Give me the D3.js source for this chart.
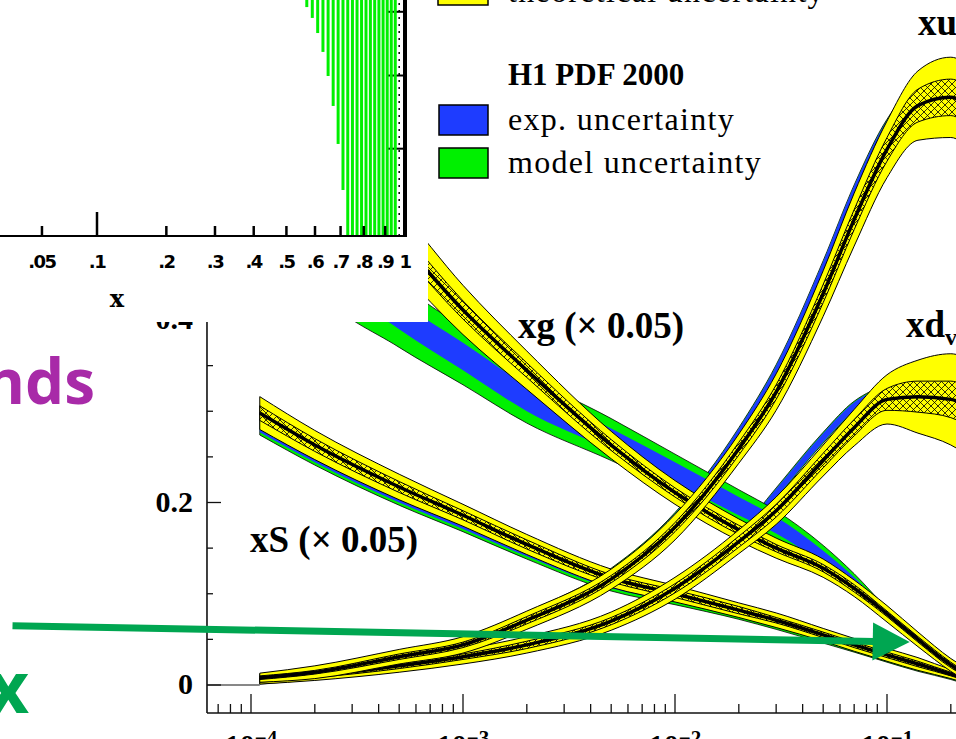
<!DOCTYPE html>
<html>
<head>
<meta charset="utf-8">
<script src="https://cdn.jsdelivr.net/npm/d3@7"></script>
<style>
  body { margin: 0; background: #fff; overflow: hidden; }
  svg { display: block; }
</style>
</head>
<body>
<svg id="chart" width="956" height="739"></svg>
<script>
const xGrid = [1.1e-4, 2e-4, 5e-4, 1e-3, 2e-3, 5e-3, 1e-2, 2e-2, 3e-2, 5e-2, 7e-2, 0.1, 0.14, 0.2, 0.25];

// xu_v : yellow fit (central, half width, hatched half width) and H1 band
const uvFit   = [0.008, 0.014, 0.031, 0.044, 0.071, 0.116, 0.173, 0.259, 0.321, 0.429, 0.510, 0.587, 0.635, 0.644, 0.630];
const uvTh    = [0.005, 0.007, 0.008, 0.009, 0.010, 0.011, 0.014, 0.016, 0.020, 0.025, 0.029, 0.031, 0.038, 0.044, 0.046];
const uvHatch = [0.002, 0.002, 0.003, 0.003, 0.004, 0.004, 0.005, 0.007, 0.008, 0.010, 0.011, 0.013, 0.018, 0.020, 0.021];
const uvH1    = [0.008, 0.014, 0.032, 0.046, 0.074, 0.121, 0.182, 0.274, 0.342, 0.455, 0.536, 0.606, 0.643, 0.646, 0.630];
const uvExp   = [0.003, 0.004, 0.004, 0.005, 0.005, 0.006, 0.006, 0.007, 0.008, 0.009, 0.011, 0.013, 0.014, 0.016, 0.016];
const uvModel = [0.004, 0.005, 0.005, 0.006, 0.006, 0.007, 0.007, 0.008, 0.009, 0.010, 0.012, 0.014, 0.015, 0.017, 0.017];

// xd_v
const dvFit   = [0.005, 0.010, 0.021, 0.031, 0.044, 0.070, 0.106, 0.157, 0.191, 0.246, 0.282, 0.313, 0.316, 0.313, 0.302];
const dvTh    = [0.004, 0.005, 0.007, 0.008, 0.009, 0.010, 0.012, 0.013, 0.015, 0.017, 0.020, 0.027, 0.040, 0.050, 0.053];
const dvHatch = [0.002, 0.002, 0.003, 0.003, 0.004, 0.004, 0.005, 0.006, 0.007, 0.008, 0.009, 0.012, 0.017, 0.020, 0.020];
const dvH1    = [0.005, 0.010, 0.021, 0.031, 0.044, 0.070, 0.107, 0.161, 0.210, 0.271, 0.305, 0.320, 0.318, 0.313, 0.302];
const dvExp   = [0.003, 0.003, 0.004, 0.004, 0.005, 0.005, 0.005, 0.005, 0.005, 0.005, 0.005, 0.005, 0.006, 0.006, 0.006];
const dvModel = [0.004, 0.004, 0.005, 0.005, 0.006, 0.006, 0.006, 0.006, 0.006, 0.006, 0.006, 0.006, 0.007, 0.007, 0.007];

// xg (x 0.05)
const gFit    = [0.641, 0.576, 0.488, 0.411, 0.345, 0.263, 0.211, 0.170, 0.150, 0.128, 0.106, 0.078, 0.050, 0.022, 0.008];
const gTh     = [0.033, 0.033, 0.033, 0.027, 0.021, 0.015, 0.013, 0.012, 0.011, 0.010, 0.009, 0.009, 0.008, 0.007, 0.007];
const gHatch  = [0.012, 0.012, 0.012, 0.010, 0.008, 0.006, 0.005, 0.005, 0.004, 0.004, 0.004, 0.003, 0.003, 0.003, 0.002];
const gH1     = [0.560, 0.475, 0.405, 0.360, 0.314, 0.269, 0.233, 0.196, 0.175, 0.140, 0.113, 0.080, 0.050, 0.022, 0.008];
const gExp    = [0.015, 0.015, 0.015, 0.015, 0.014, 0.012, 0.011, 0.010, 0.009, 0.007, 0.005, 0.002, 0.002, 0.001, 0.001];
const gModel  = [0.040, 0.040, 0.035, 0.031, 0.027, 0.023, 0.020, 0.018, 0.016, 0.013, 0.009, 0.004, 0.003, 0.002, 0.002];

// xS (x 0.05)
const sFit    = [0.298, 0.263, 0.217, 0.186, 0.154, 0.117, 0.100, 0.082, 0.071, 0.055, 0.044, 0.033, 0.023, 0.012, 0.005];
const sTh     = [0.018, 0.016, 0.014, 0.012, 0.011, 0.010, 0.009, 0.008, 0.008, 0.007, 0.007, 0.007, 0.007, 0.005, 0.005];
const sHatch  = [0.008, 0.007, 0.006, 0.005, 0.005, 0.004, 0.004, 0.004, 0.003, 0.003, 0.003, 0.003, 0.003, 0.002, 0.002];
const sH1     = [0.289, 0.255, 0.209, 0.179, 0.148, 0.112, 0.096, 0.079, 0.068, 0.052, 0.042, 0.031, 0.021, 0.011, 0.004];
const sExp    = [0.012, 0.011, 0.009, 0.008, 0.007, 0.006, 0.005, 0.004, 0.004, 0.003, 0.003, 0.003, 0.003, 0.002, 0.002];
const sModel  = [0.015, 0.014, 0.012, 0.011, 0.010, 0.009, 0.008, 0.007, 0.007, 0.006, 0.006, 0.006, 0.006, 0.005, 0.005];

// axis ticks
const xDecades = [1e-4, 1e-3, 1e-2, 1e-1, 1];
const xDecadeExp = ["-4", "-3", "-2", "-1", "0"];
const yTicks = [0, 0.05, 0.1, 0.15, 0.2, 0.25, 0.3, 0.35, 0.4];
const yLabels = ["0", "0.2", "0.4"];

// inset (upper left, cube root x axis)
const insetTicks = [0.02, 0.05, 0.1, 0.2, 0.3, 0.4, 0.5, 0.6, 0.7, 0.8, 0.9, 1];
const insetTickLabels = [".02", ".05", ".1", ".2", ".3", ".4", ".5", ".6", ".7", ".8", ".9", "1"];
const insetBarX = [0.57, 0.59, 0.61, 0.63, 0.65, 0.67, 0.69, 0.71, 0.73, 0.75, 0.77, 0.79, 0.81, 0.83, 0.85, 0.87, 0.89, 0.91, 0.93, 0.95];
const insetBarLow = [0.97, 0.924, 0.86, 0.78, 0.678, 0.551, 0.39, 0.195, 0, 0, 0, 0, 0, 0, 0, 0, 0, 0, 0, 0];
const insetRightTicks = [0.37, 0.68, 0.95];

const YELLOW = "#ffff00", BLUE = "#1e3cff", GREEN = "#00f000";
const SERIF = '"Liberation Serif", "DejaVu Serif", serif';

const svg = d3.select("#chart");

const xMin = 6.2e-5, yMin = -0.0307;
const x = d3.scaleLog().domain([1e-4, 1]).range([251, 1099]);
const y = d3.scaleLinear().domain([0, 0.4]).range([685, 320]);

// mesh for the hatched part of the yellow bands
const defs = svg.append("defs");
const mesh = defs.append("pattern").attr("id", "mesh")
  .attr("patternUnits", "userSpaceOnUse").attr("width", 7).attr("height", 7);
mesh.append("rect").attr("width", 7).attr("height", 7).attr("fill", YELLOW);
mesh.append("path").attr("d", "M0,0L7,7M7,0L0,7")
  .attr("stroke", "#000").attr("stroke-width", 0.8);

// ---- axes ----
const axisG = svg.append("g").attr("stroke", "#111").attr("fill", "none");
axisG.append("line").attr("x1", x(xMin)).attr("x2", x(xMin))
  .attr("y1", y(0.45)).attr("y2", y(yMin)).attr("stroke-width", 1.6);
axisG.append("line").attr("x1", x(xMin)).attr("x2", 960)
  .attr("y1", y(yMin)).attr("y2", y(yMin)).attr("stroke-width", 1.6);

// y ticks, pointing inwards
axisG.selectAll(".yt").data(yTicks).join("line")
  .attr("x1", x(xMin))
  .attr("x2", (d) => x(xMin) + (Math.round(d * 100) % 20 === 0 ? 14 : 6))
  .attr("y1", (d) => y(d)).attr("y2", (d) => y(d))
  .attr("stroke-width", 1.3);

// x ticks: decades and minor ticks
const minor = [];
for (let k = -5; k < 0; k++) {
  for (let m = 2; m <= 9; m++) {
    const v = m * Math.pow(10, k);
    if (v > xMin) minor.push(v);
  }
}
axisG.selectAll(".xm").data(minor).join("line")
  .attr("x1", (d) => x(d)).attr("x2", (d) => x(d))
  .attr("y1", y(yMin)).attr("y2", y(yMin) - 9).attr("stroke-width", 1.3);
axisG.selectAll(".xM").data(xDecades).join("line")
  .attr("x1", (d) => x(d)).attr("x2", (d) => x(d))
  .attr("y1", y(yMin)).attr("y2", y(yMin) - 19).attr("stroke-width", 1.3);

// tick labels
svg.append("g").selectAll("text").data(yLabels).join("text")
  .attr("x", 193).attr("y", (d) => y(+d) + 9)
  .attr("text-anchor", "end")
  .style("font", `bold 30px ${SERIF}`)
  .text((d) => d);

const xl = svg.append("g").selectAll("text").data(xDecades).join("text")
  .attr("x", (d) => x(d)).attr("y", 755)
  .attr("text-anchor", "middle")
  .style("font", `bold 30px ${SERIF}`);
xl.append("tspan").text("10");
xl.append("tspan").attr("dy", -10).style("font-size", "21px")
  .text((d, i) => "\u2212" + xDecadeExp[i].replace("-", ""));

// zero line up to the start of the bands
svg.append("line").attr("x1", x(xMin)).attr("x2", x(xGrid[0]))
  .attr("y1", y(0)).attr("y2", y(0)).attr("stroke", "#111").attr("stroke-width", 1);

// ---- bands ----
function bandArea(center, half) {
  return d3.area()
    .x((d, i) => x(xGrid[i]))
    .y0((d, i) => y(center[i] - half[i]))
    .y1((d, i) => y(center[i] + half[i]))
    .curve(d3.curveMonotoneX)(xGrid);
}
function centerLine(center) {
  return d3.line()
    .x((d, i) => x(xGrid[i]))
    .y((d, i) => y(center[i]))
    .curve(d3.curveMonotoneX)(xGrid);
}

const h1Curves = [
  { c: dvH1, e: dvExp, m: dvModel },
  { c: uvH1, e: uvExp, m: uvModel },
  { c: sH1, e: sExp, m: sModel },
  { c: gH1, e: gExp, m: gModel },
];
const fitCurves = [
  { c: sFit, t: sTh, h: sHatch },
  { c: gFit, t: gTh, h: gHatch },
  { c: dvFit, t: dvTh, h: dvHatch },
  { c: uvFit, t: uvTh, h: uvHatch },
];

const bands = svg.append("g");
h1Curves.forEach((b) => {
  bands.append("path").attr("d", bandArea(b.c, b.m))
    .attr("fill", GREEN).attr("stroke", "#000").attr("stroke-width", 0.8);
  bands.append("path").attr("d", bandArea(b.c, b.e)).attr("fill", BLUE);
});
fitCurves.forEach((b) => {
  bands.append("path").attr("d", bandArea(b.c, b.t))
    .attr("fill", YELLOW).attr("stroke", "#000").attr("stroke-width", 1);
  bands.append("path").attr("d", bandArea(b.c, b.h))
    .attr("fill", "url(#mesh)").attr("stroke", "#000").attr("stroke-width", 1);
  bands.append("path").attr("d", centerLine(b.c))
    .attr("fill", "none").attr("stroke", "#000").attr("stroke-width", 3.5);
});

// ---- curve labels ----
const lab = svg.append("g").style("font", `bold 37px ${SERIF}`);
lab.append("text").attr("x", 518).attr("y", 338).text("xg (\u00d7 0.05)");
lab.append("text").attr("x", 250).attr("y", 552).text("xS (\u00d7 0.05)");
const dLab = lab.append("text").attr("x", 906).attr("y", 337);
dLab.append("tspan").text("xd");
dLab.append("tspan").attr("dy", 8).style("font-size", "24px").text("v");
const uLab = lab.append("text").attr("x", 918).attr("y", 35);
uLab.append("tspan").text("xu");
uLab.append("tspan").attr("dy", 8).style("font-size", "24px").text("v");

// ---- legend ----
const leg = svg.append("g");
leg.append("rect").attr("x", 438).attr("y", -25).attr("width", 50).attr("height", 30)
  .attr("fill", YELLOW).attr("stroke", "#000").attr("stroke-width", 1.5);
leg.append("text").attr("x", 508).attr("y", 2)
  .style("font", `32px ${SERIF}`).style("letter-spacing", "1.3px")
  .text("theoretical uncertainty");
leg.append("text").attr("x", 508).attr("y", 85)
  .style("font", `bold 31px ${SERIF}`).text("H1 PDF 2000");
[["exp. uncertainty", BLUE, 105], ["model uncertainty", GREEN, 148]].forEach(([t, col, top]) => {
  leg.append("rect").attr("x", 439).attr("y", top).attr("width", 49).attr("height", 30)
    .attr("fill", col).attr("stroke", "#000").attr("stroke-width", 1.5);
  leg.append("text").attr("x", 508).attr("y", top + 25)
    .style("font", `32px ${SERIF}`).style("letter-spacing", "1.3px").text(t);
});

// ---- inset ----
const inset = svg.append("g");
inset.append("rect").attr("x", 0).attr("y", 0).attr("width", 428).attr("height", 322).attr("fill", "#fff");
const ix = d3.scalePow().exponent(1 / 3).domain([0.1, 1]).range([97, 405]);
const iy = d3.scaleLinear().domain([0, 1]).range([236, 0]);

inset.selectAll(".rt").data(insetRightTicks).join("line")
  .attr("x1", ix(1) - 17).attr("x2", ix(1))
  .attr("y1", (d) => iy(d)).attr("y2", (d) => iy(d))
  .attr("stroke", "#000").attr("stroke-width", 2);
inset.selectAll(".bar").data(insetBarX).join("line")
  .attr("x1", (d) => ix(d)).attr("x2", (d) => ix(d))
  .attr("y1", (d, i) => iy(insetBarLow[i])).attr("y2", iy(1.1))
  .attr("stroke", GREEN).attr("stroke-width", 3);
inset.append("line").attr("x1", ix(0.97)).attr("x2", ix(0.97))
  .attr("y1", iy(0)).attr("y2", iy(1.1))
  .attr("stroke", "#000").attr("stroke-width", 1.5).attr("stroke-dasharray", "2,5");
inset.append("line").attr("x1", ix(1)).attr("x2", ix(1))
  .attr("y1", iy(0)).attr("y2", iy(1.1)).attr("stroke", "#000").attr("stroke-width", 4);
inset.append("line").attr("x1", 0).attr("x2", ix(1) + 2)
  .attr("y1", iy(0)).attr("y2", iy(0)).attr("stroke", "#000").attr("stroke-width", 2);
inset.selectAll(".it").data(insetTicks.slice(0, -1)).join("line")
  .attr("x1", (d) => ix(d)).attr("x2", (d) => ix(d))
  .attr("y1", iy(0)).attr("y2", (d) => iy(0) - (d === 0.1 ? 24 : 10))
  .attr("stroke", "#000").attr("stroke-width", 2.5);
inset.selectAll(".il").data(insetTicks).join("text")
  .attr("x", (d) => ix(d)).attr("y", 268)
  .attr("text-anchor", "middle")
  .style("font", 'bold 18px "DejaVu Sans", sans-serif').style("letter-spacing", "-1.5px")
  .text((d, i) => insetTickLabels[i]);
inset.append("text").attr("x", 117).attr("y", 307).attr("text-anchor", "middle")
  .style("font", 'bold 24px "DejaVu Serif", serif').text("x");

// ---- slide overlays ----
svg.append("text").attr("x", 95).attr("y", 404).attr("text-anchor", "end")
  .attr("fill", "#a82aa8")
  .style("font", '700 62px "Open Sans", sans-serif')
  .text("nds");
svg.append("text").attr("x", 29).attr("y", 713).attr("text-anchor", "end")
  .attr("fill", "#00a651")
  .style("font", '700 72px "Open Sans", sans-serif')
  .text("x");

const arrowFrom = [7.5e-6, 0.065];
const arrowTo = [0.128, 0.047];
const ax0 = x(arrowFrom[0]), ay0 = y(arrowFrom[1]);
const ax1 = x(arrowTo[0]), ay1 = y(arrowTo[1]);
const ang = Math.atan2(ay1 - ay0, ax1 - ax0);
const headL = 37, headW = 19;
const bx = ax1 - headL * Math.cos(ang), by = ay1 - headL * Math.sin(ang);
svg.append("line").attr("x1", ax0).attr("y1", ay0).attr("x2", bx + 2).attr("y2", by)
  .attr("stroke", "#00a651").attr("stroke-width", 7);
svg.append("path")
  .attr("d", `M${ax1},${ay1}L${bx - headW * Math.sin(ang)},${by + headW * Math.cos(ang)}L${bx + headW * Math.sin(ang)},${by - headW * Math.cos(ang)}Z`)
  .attr("fill", "#00a651");
</script>
</body>
</html>
